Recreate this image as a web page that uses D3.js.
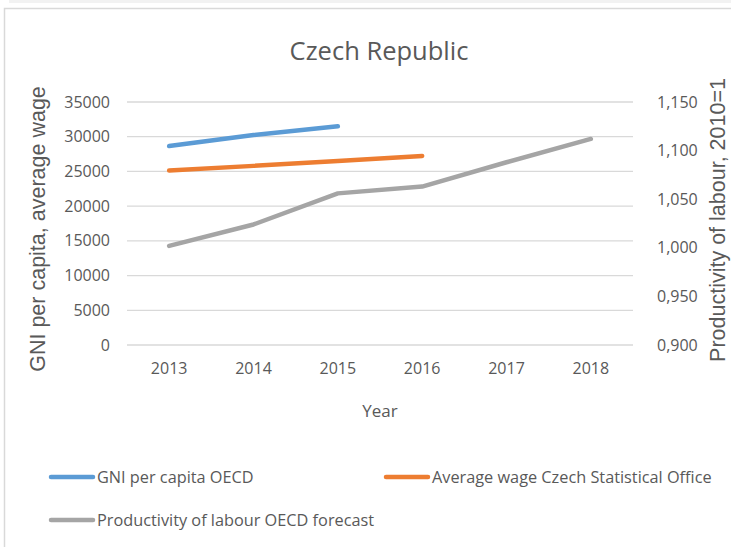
<!DOCTYPE html>
<html>
<head>
<meta charset="utf-8">
<script src="https://cdn.jsdelivr.net/npm/d3@7"></script>
<style>
  body { margin: 0; background: #fff; }
  svg { display: block; }
  .tick text { fill: #595959; }
</style>
</head>
<body>
<div id="chart"></div>
<script>
var years = ['2013', '2014', '2015', '2016', '2017', '2018'];
var gni = [28650, 30250, 31500, null, null, null];
var wage = [25130, 25800, 26500, 27230, null, null];
var productivity = [1.002, 1.024, 1.056, 1.063, 1.088, 1.112];
var leftTicks = [0, 5000, 10000, 15000, 20000, 25000, 30000, 35000];
var rightTicks = [0.90, 0.95, 1.00, 1.05, 1.10, 1.15];

var width = 731, height = 547;
var plot = {left: 127, right: 633, top: 102, bottom: 345};
var txt = '#595959';
var font = '"Open Sans", sans-serif';

var svg = d3.select('#chart').append('svg')
  .attr('width', width)
  .attr('height', height);

// frame
svg.append('rect').attr('x', 9).attr('y', 0).attr('width', width - 9).attr('height', 3).attr('fill', '#f2f2f2');
svg.append('path').attr('d', 'M4.5,' + height + 'V8.5H' + width)
  .attr('fill', 'none').attr('stroke', '#d9d9d9').attr('stroke-width', 1.5);

var xScale = d3.scaleBand().domain(years).range([plot.left, plot.right]);
var yLeft = d3.scaleLinear().domain([0, 35000]).range([plot.bottom, plot.top]);
var yRight = d3.scaleLinear().domain([0.9, 1.15]).range([plot.bottom, plot.top]);

// gridlines
svg.append('g')
  .selectAll('line')
  .data(leftTicks)
  .enter()
  .append('line')
  .attr('x1', plot.left).attr('x2', plot.right)
  .attr('y1', (d) => yLeft(d)).attr('y2', (d) => yLeft(d))
  .attr('stroke', '#d9d9d9').attr('stroke-width', 1.3);

var leftAxis = svg.append('g')
  .attr('transform', 'translate(' + (plot.left - 17) + ',0)')
  .call(d3.axisLeft(yLeft).tickValues(leftTicks).tickSize(0).tickPadding(0).tickFormat(d3.format('d')));

var commaFmt = (d) => d3.format('.3f')(d).replace('.', ',');
var rightAxis = svg.append('g')
  .attr('transform', 'translate(' + (plot.right + 24) + ',0)')
  .call(d3.axisRight(yRight).tickValues(rightTicks).tickSize(0).tickPadding(0).tickFormat(commaFmt));

var xAxis = svg.append('g')
  .attr('transform', 'translate(0,' + (plot.bottom + 15) + ')')
  .call(d3.axisBottom(xScale).tickSize(0).tickPadding(0));

[leftAxis, rightAxis, xAxis].forEach(function (a) {
  a.select('.domain').remove();
  a.selectAll('text').style('font-family', font).style('font-size', '16px').attr('fill', txt);
});
xAxis.selectAll('text').attr('dy', '0.9em');

// lines
var series = [
  {name: 'GNI per capita OECD', values: gni, y: yLeft, color: '#5b9bd5'},
  {name: 'Average wage Czech Statistical Office', values: wage, y: yLeft, color: '#ed7d31'},
  {name: 'Productivity of labour OECD forecast', values: productivity, y: yRight, color: '#a5a5a5'}
];

series.forEach(function (s) {
  var line = d3.line()
    .defined((d) => d != null)
    .x((d, i) => xScale(years[i]) + xScale.bandwidth() / 2)
    .y((d) => s.y(d));
  svg.append('path')
    .datum(s.values)
    .attr('d', line)
    .attr('fill', 'none')
    .attr('stroke', s.color)
    .attr('stroke-width', 4.5)
    .attr('stroke-linecap', 'round')
    .attr('stroke-linejoin', 'round');
});

// titles
svg.append('text')
  .attr('x', 379).attr('y', 60)
  .attr('text-anchor', 'middle')
  .style('font-family', font).style('font-size', '25.5px')
  .attr('fill', txt)
  .text('Czech Republic');

svg.append('text')
  .attr('x', 380).attr('y', 417)
  .attr('text-anchor', 'middle')
  .style('font-family', font).style('font-size', '17px')
  .attr('fill', txt)
  .text('Year');

svg.append('text')
  .attr('transform', 'translate(45,229) rotate(-90)')
  .attr('text-anchor', 'middle')
  .style('font-family', '"Liberation Sans", Arial, sans-serif').style('font-size', '21.5px')
  .attr('fill', txt)
  .text('GNI per capita, average wage');

svg.append('text')
  .attr('transform', 'translate(725,220) rotate(-90)')
  .attr('text-anchor', 'middle')
  .style('font-family', '"Liberation Sans", Arial, sans-serif').style('font-size', '21.5px')
  .attr('fill', txt)
  .text('Productivity of labour, 2010=1');

// legend
var legendPos = [{x: 51, y: 477}, {x: 386, y: 477}, {x: 51, y: 520}];
var legend = svg.append('g')
  .selectAll('g')
  .data(series)
  .enter()
  .append('g')
  .attr('transform', (d, i) => 'translate(' + legendPos[i].x + ',' + legendPos[i].y + ')');

legend.append('line')
  .attr('x1', 0).attr('x2', 42)
  .attr('stroke', (d) => d.color)
  .attr('stroke-width', 4.5)
  .attr('stroke-linecap', 'round');

legend.append('text')
  .attr('x', 46).attr('y', 6)
  .style('font-family', font).style('font-size', '16.3px')
  .attr('fill', txt)
  .text((d) => d.name);
</script>
</body>
</html>
